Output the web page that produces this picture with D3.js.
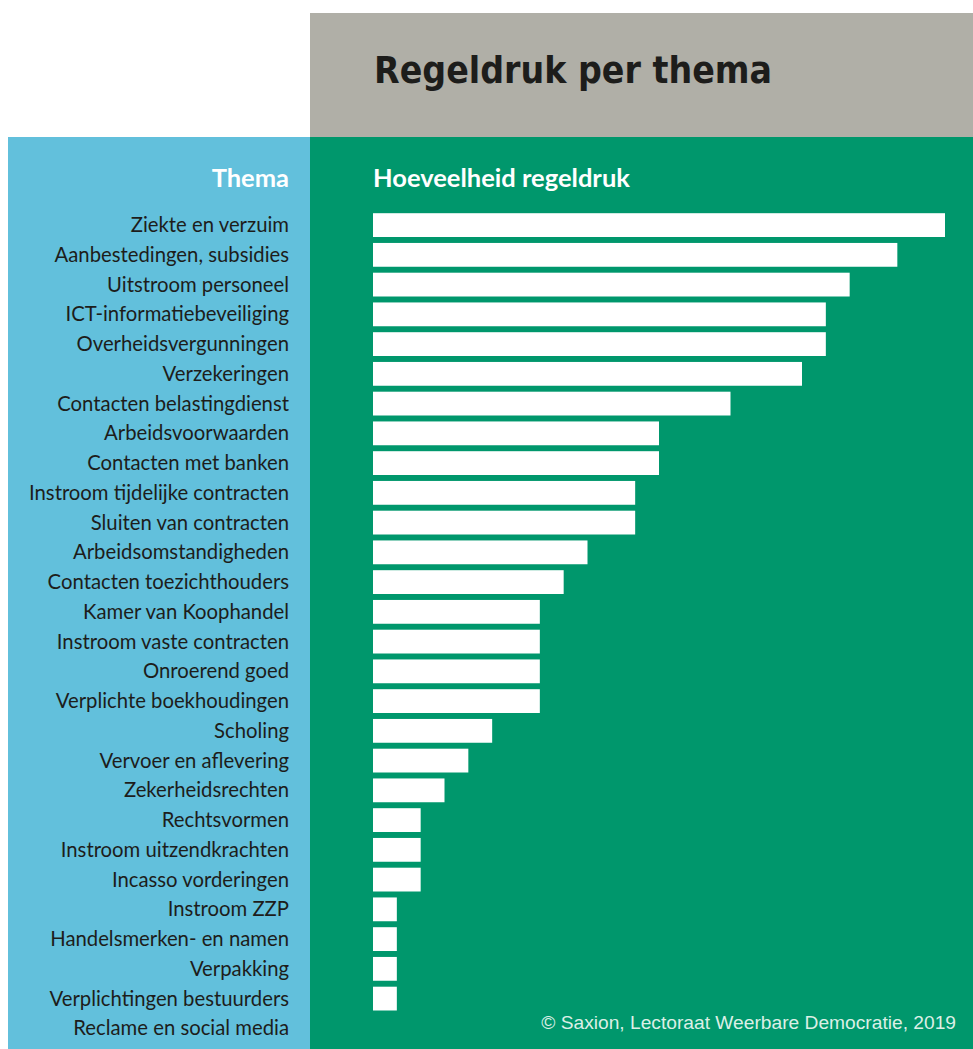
<!DOCTYPE html>
<html>
<head>
<meta charset="utf-8">
<script src="https://cdn.jsdelivr.net/npm/d3@7"></script>
<style>
  body { margin: 0; background: #fff; }
  svg { display: block; }
</style>
</head>
<body>
<div id="chart"></div>
<script>

// thema's, top to bottom
var themes = [
  "Ziekte en verzuim",
  "Aanbestedingen, subsidies",
  "Uitstroom personeel",
  "ICT-informatiebeveiliging",
  "Overheidsvergunningen",
  "Verzekeringen",
  "Contacten belastingdienst",
  "Arbeidsvoorwaarden",
  "Contacten met banken",
  "Instroom tijdelijke contracten",
  "Sluiten van contracten",
  "Arbeidsomstandigheden",
  "Contacten toezichthouders",
  "Kamer van Koophandel",
  "Instroom vaste contracten",
  "Onroerend goed",
  "Verplichte boekhoudingen",
  "Scholing",
  "Vervoer en aflevering",
  "Zekerheidsrechten",
  "Rechtsvormen",
  "Instroom uitzendkrachten",
  "Incasso vorderingen",
  "Instroom ZZP",
  "Handelsmerken- en namen",
  "Verpakking",
  "Verplichtingen bestuurders",
  "Reclame en social media"
];

// hoeveelheid regeldruk (aantal)
var amounts = [24, 22, 20, 19, 19, 18, 15, 12, 12, 11, 11, 9, 8, 7, 7, 7, 7, 5, 4, 3, 2, 2, 2, 1, 1, 1, 1, 0];

var title     = "Regeldruk per thema";
var colLabel  = "Thema";
var barLabel  = "Hoeveelheid regeldruk";
var credit    = "\u00A9 Saxion, Lectoraat Weerbare Democratie, 2019";

var W = 973, H = 1049;

var svg = d3.select("#chart").append("svg")
  .attr("width", W)
  .attr("height", H);

//......................... panels .........................
svg.append("rect")
  .attr("x", 310).attr("y", 13)
  .attr("width", W - 310).attr("height", 124)
  .attr("fill", "#b0afa7");

svg.append("rect")
  .attr("x", 8).attr("y", 137)
  .attr("width", 302).attr("height", H - 137)
  .attr("fill", "#62c0dc");

svg.append("rect")
  .attr("x", 310).attr("y", 137)
  .attr("width", W - 310).attr("height", H - 137)
  .attr("fill", "#00976c");

//......................... titles .........................
svg.append("text")
  .attr("x", 374).attr("y", 83)
  .attr("font-family", "DejaVu Sans")
  .attr("font-stretch", "condensed")
  .attr("font-weight", "bold")
  .attr("font-size", 38)
  .attr("fill", "#1d1d1b")
  .attr("textLength", 398)
  .attr("lengthAdjust", "spacingAndGlyphs")
  .text(title);

svg.append("text")
  .attr("x", 289).attr("y", 187)
  .attr("text-anchor", "end")
  .attr("font-family", "Lato")
  .attr("font-weight", "bold")
  .attr("font-size", 25.5)
  .attr("fill", "#fff")
  .text(colLabel);

svg.append("text")
  .attr("x", 373).attr("y", 187)
  .attr("font-family", "Lato")
  .attr("font-weight", "bold")
  .attr("font-size", 25.5)
  .attr("fill", "#fff")
  .text(barLabel);

//......................... scales .........................
var step = 29.75;
var y = d3.scaleBand()
  .domain(themes)
  .range([213.2, 213.2 + step * (themes.length - 0.2)])
  .paddingInner(0.2)
  .paddingOuter(0);

var x = d3.scaleLinear()
  .domain([0, 24])
  .range([373, 945]);

//......................... bars .........................
svg.append("g")
  .attr("class", "bars")
  .selectAll("rect")
  .data(themes)
  .enter()
  .append("rect")
  .attr("x", x(0))
  .attr("y", function(d){ return y(d); })
  .attr("width", function(d, i){ return x(amounts[i]) - x(0); })
  .attr("height", y.bandwidth())
  .attr("fill", "#fff");

//......................... labels .........................
svg.append("g")
  .attr("class", "labels")
  .selectAll("text")
  .data(themes)
  .enter()
  .append("text")
  .attr("x", 289)
  .attr("y", function(d){ return y(d) + y.bandwidth() / 2; })
  .attr("dy", "0.35em")
  .attr("text-anchor", "end")
  .attr("font-family", "Lato")
  .attr("font-size", 20.3)
  .attr("fill", "#1d1d1b")
  .text(function(d){ return d; });

//......................... bron .........................
svg.append("text")
  .attr("x", 956).attr("y", 1029)
  .attr("text-anchor", "end")
  .attr("font-family", "Liberation Sans")
  .attr("font-size", 19.2)
  .attr("fill", "#dcefe6")
  .text(credit);

</script>
</body>
</html>
